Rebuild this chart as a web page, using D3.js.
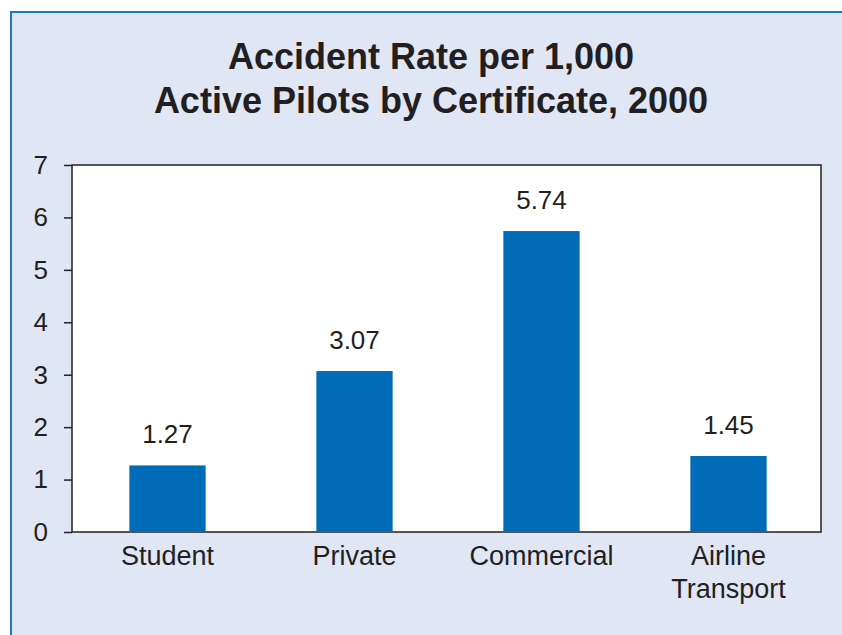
<!DOCTYPE html>
<html>
<head>
<meta charset="utf-8">
<script src="https://cdn.jsdelivr.net/npm/d3@7"></script>
<style>
  html, body { margin: 0; padding: 0; background: #fff; }
  svg { display: block; font-family: "Liberation Sans", Arial, sans-serif; }
</style>
</head>
<body>
<svg id="chart" width="842" height="635"></svg>
<script>
// chart data
const categories = ["Student", "Private", "Commercial", "Airline Transport"];
const rates = [1.27, 3.07, 5.74, 1.45];
const yTicks = [0, 1, 2, 3, 4, 5, 6, 7];
const titleLines = ["Accident Rate per 1,000", "Active Pilots by Certificate, 2000"];

const W = 842, H = 635;
const plot = { left: 72, top: 165, right: 821, bottom: 532 };
const ink = "#231f20";

const svg = d3.select("#chart");

// panel background + blue frame
svg.append("rect").attr("x", 11).attr("y", 12).attr("width", W - 11).attr("height", H - 12)
    .attr("fill", "#e0e6f4");
svg.append("path")
    .attr("d", "M11," + H + "V12H" + W)
    .attr("fill", "none").attr("stroke", "#1f77c4").attr("stroke-width", 2);

// title
svg.append("g").selectAll("text").data(titleLines).enter().append("text")
    .attr("x", 431)
    .attr("y", (d, i) => 69 + i * 44)
    .attr("text-anchor", "middle")
    .attr("font-size", 36).attr("font-weight", "bold").attr("fill", ink)
    .text(d => d);

let x = d3.scaleBand().domain(categories).range([74, 822]).paddingInner(0.592).paddingOuter(0.296);
let y = d3.scaleLinear().domain([0, 7]).range([plot.bottom, plot.top]);

// plot area
svg.append("rect").attr("x", plot.left).attr("y", plot.top)
    .attr("width", plot.right - plot.left).attr("height", plot.bottom - plot.top)
    .attr("fill", "#fff").attr("stroke", ink).attr("stroke-width", 1.5);

// bars
svg.append("g").selectAll("rect").data(rates).enter().append("rect")
    .attr("x", (d, i) => x(categories[i]))
    .attr("y", d => y(d))
    .attr("width", x.bandwidth())
    .attr("height", d => y(0) - y(d) - 0.75)
    .attr("fill", "#006cb7");

// value labels
svg.append("g").selectAll("text").data(rates).enter().append("text")
    .attr("x", (d, i) => x(categories[i]) + x.bandwidth() / 2)
    .attr("y", d => y(d) - 22)
    .attr("text-anchor", "middle")
    .attr("font-size", 26).attr("fill", ink)
    .text(d => d.toFixed(2));

// y axis
let yAxis = d3.axisLeft(y).tickValues(yTicks).tickSize(8).tickPadding(16).tickFormat(d3.format("d"));
let gy = svg.append("g").attr("transform", "translate(" + plot.left + ",0)").call(yAxis);
gy.select(".domain").remove();
gy.selectAll("line").attr("stroke", ink).attr("stroke-width", 1.5);
gy.selectAll("text").attr("font-size", 26).attr("fill", ink)
    .attr("font-family", "Liberation Sans, Arial, sans-serif");

// x labels (split on space for 2-line names)
let xl = svg.append("g").selectAll("text").data(categories).enter().append("text")
    .attr("x", d => x(d) + x.bandwidth() / 2)
    .attr("y", 565)
    .attr("text-anchor", "middle")
    .attr("font-size", 27).attr("fill", ink);
xl.each(function(d) {
    let parts = d === "Airline Transport" ? ["Airline", "Transport"] : [d];
    let t = d3.select(this);
    parts.forEach((p, i) => {
        t.append("tspan").attr("x", x(d) + x.bandwidth() / 2).attr("dy", i ? 33 : 0).text(p);
    });
});
</script>
</body>
</html>
